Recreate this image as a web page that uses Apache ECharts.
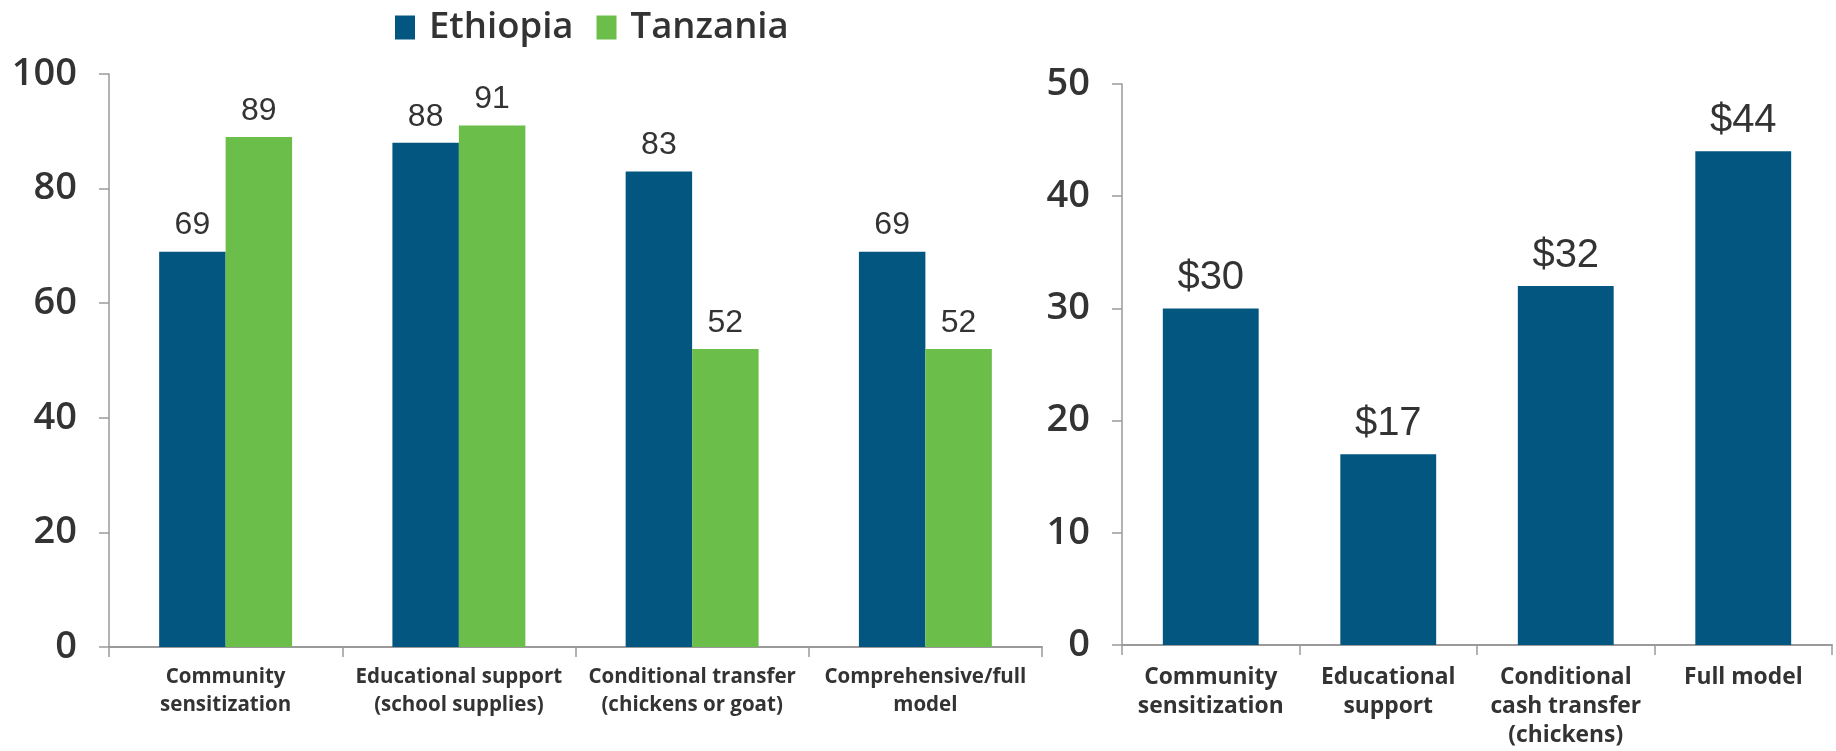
<!DOCTYPE html>
<html>
<head>
<meta charset="utf-8">
<script src="https://cdn.jsdelivr.net/npm/echarts@6/dist/echarts.min.js"></script>
<style>
html,body{margin:0;padding:0;background:#fff;}
#chart{width:1836px;height:751px;}
</style>
</head>
<body>
<div id="chart"></div>
<script>
// Left chart: share (%) by intervention and country
const leftCategories = ['Community\nsensitization', 'Educational support\n(school supplies)', 'Conditional transfer\n(chickens or goat)', 'Comprehensive/full\nmodel'];
const ethiopiaValues = [69, 88, 83, 69];
const tanzaniaValues = [89, 91, 52, 52];
const leftTicks = [0, 20, 40, 60, 80, 100];

// Right chart: cost per intervention
const rightCategories = ['Community\nsensitization', 'Educational\nsupport', 'Conditional\ncash transfer\n(chickens)', 'Full model'];
const costValues = [30, 17, 32, 44];
const rightTicks = [0, 10, 20, 30, 40, 50];

const BLUE = '#02567F';
const GREEN = '#6CBE4B';
const TEXT = '#333333';
const AXIS = '#9a9a9a';

const chart = echarts.init(document.getElementById('chart'), null, {renderer: 'canvas'});

function yAxis(gridIndex, ticks) {
  return {
    type: 'value', gridIndex: gridIndex,
    min: ticks[0], max: ticks[ticks.length - 1], interval: ticks[1] - ticks[0],
    axisLine: {show: true, lineStyle: {color: AXIS, width: 1.5}},
    axisTick: {show: true, length: 10, lineStyle: {color: AXIS, width: 1.5}},
    splitLine: {show: false},
    axisLabel: {color: TEXT, fontFamily: 'Open Sans', fontWeight: 600, fontSize: 38, margin: 32}
  };
}

function xAxis(gridIndex, cats, fontSize, lineHeight, margin) {
  return {
    type: 'category', gridIndex: gridIndex, data: cats,
    axisLine: {show: true, lineStyle: {color: AXIS, width: 2}},
    axisTick: {show: true, length: 10, lineStyle: {color: AXIS, width: 1.5}},
    axisLabel: {color: TEXT, fontFamily: 'Open Sans', fontWeight: 700, fontSize: fontSize, lineHeight: lineHeight, margin: margin, interval: 0}
  };
}

chart.setOption({
  animation: false,
  backgroundColor: '#ffffff',
  legend: {
    data: ['Ethiopia', 'Tanzania'],
    left: 390, top: 4,
    itemWidth: 20, itemHeight: 24, itemGap: 23,
    icon: 'rect',
    textStyle: {color: TEXT, fontFamily: 'Open Sans', fontWeight: 600, fontSize: 36.5, padding: [0, 0, 0, 9]}
  },
  grid: [
    {left: 109, right: 794, top: 74, bottom: 104},
    {left: 1122, right: 4, top: 84, bottom: 106}
  ],
  xAxis: [
    xAxis(0, leftCategories, 20.5, 28, 16),
    xAxis(1, rightCategories, 22.8, 29, 18)
  ],
  yAxis: [
    yAxis(0, leftTicks),
    yAxis(1, rightTicks)
  ],
  series: [
    {
      name: 'Ethiopia', type: 'bar', xAxisIndex: 0, yAxisIndex: 0,
      data: ethiopiaValues, barGap: '0%', barCategoryGap: '43%',
      itemStyle: {color: BLUE},
      label: {show: true, position: 'top', distance: 10, color: TEXT, fontFamily: 'Liberation Sans', fontSize: 32}
    },
    {
      name: 'Tanzania', type: 'bar', xAxisIndex: 0, yAxisIndex: 0,
      data: tanzaniaValues, barGap: '0%', barCategoryGap: '43%',
      itemStyle: {color: GREEN},
      label: {show: true, position: 'top', distance: 10, color: TEXT, fontFamily: 'Liberation Sans', fontSize: 32}
    },
    {
      name: 'Cost', type: 'bar', xAxisIndex: 1, yAxisIndex: 1,
      data: costValues, barCategoryGap: '46%',
      itemStyle: {color: BLUE},
      label: {show: true, position: 'top', distance: 10, color: TEXT, fontFamily: 'Liberation Sans', fontSize: 40,
        formatter: function (p) { return '$' + p.value; }}
    }
  ]
});
</script>
</body>
</html>
